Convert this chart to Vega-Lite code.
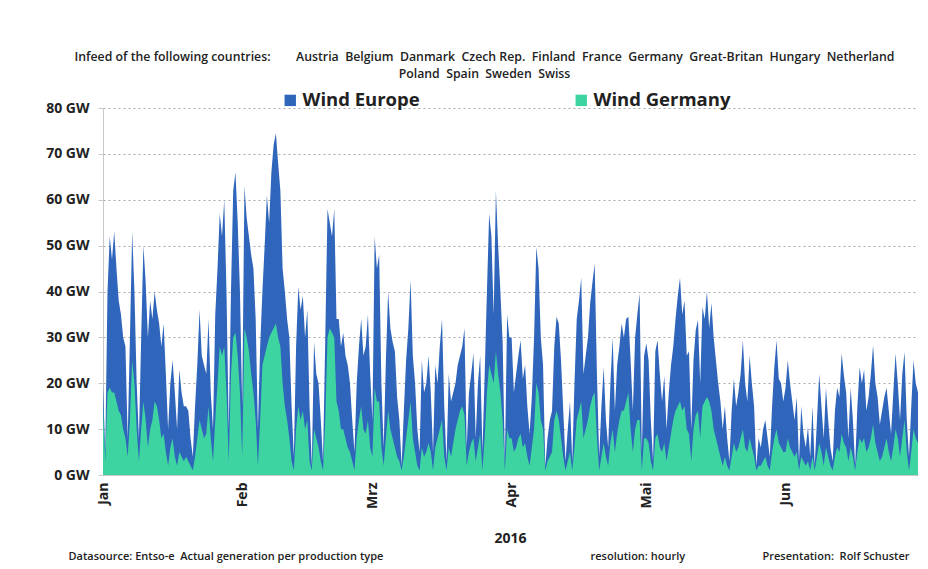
{
"$schema": "https://vega.github.io/schema/vega-lite/v6.json",
"width": 815, "height": 367,
"autosize": {"type": "none"},
"padding": {"left": 103, "top": 108, "right": 10, "bottom": 94},
"background": "white",
"title": {"text": "Infeed of the following countries:\u00a0\u00a0\u00a0\u00a0\u00a0\u00a0\u00a0 Austria \u00a0Belgium \u00a0Danmark \u00a0Czech Rep. \u00a0Finland \u00a0France \u00a0Germany \u00a0Great-Britan \u00a0Hungary \u00a0Netherland", "subtitle": "Poland \u00a0Spain \u00a0Sweden \u00a0Swiss", "anchor": "middle", "frame": "group", "dx": -26, "font": "Open Sans", "fontSize": 12.3, "fontWeight": 600, "color": "#222", "subtitleFont": "Open Sans", "subtitleFontSize": 12.3, "subtitleFontWeight": 600, "subtitleColor": "#222", "subtitlePadding": 4, "offset": 11},
"data": {"values": [
{"t":"2016-01-01T00:00","e":20,"g":15},{"t":"2016-01-01T12:00","e":5,"g":3},
{"t":"2016-01-02T00:00","e":40,"g":18},{"t":"2016-01-02T12:00","e":52,"g":19},
{"t":"2016-01-03T00:00","e":47,"g":18},{"t":"2016-01-03T12:00","e":53,"g":18},
{"t":"2016-01-04T00:00","e":45,"g":16},{"t":"2016-01-04T12:00","e":38,"g":14},
{"t":"2016-01-05T00:00","e":35,"g":13},{"t":"2016-01-05T12:00","e":30,"g":10},
{"t":"2016-01-06T00:00","e":28,"g":8},{"t":"2016-01-06T12:00","e":8,"g":4},
{"t":"2016-01-07T00:00","e":30,"g":12},{"t":"2016-01-07T12:00","e":53,"g":25},
{"t":"2016-01-08T00:00","e":40,"g":20},{"t":"2016-01-08T12:00","e":20,"g":10},
{"t":"2016-01-09T00:00","e":8,"g":3},{"t":"2016-01-09T12:00","e":30,"g":10},
{"t":"2016-01-10T00:00","e":50,"g":16},{"t":"2016-01-10T12:00","e":42,"g":12},
{"t":"2016-01-11T00:00","e":30,"g":6},{"t":"2016-01-11T12:00","e":38,"g":10},
{"t":"2016-01-12T00:00","e":34,"g":12},{"t":"2016-01-12T12:00","e":40,"g":16},
{"t":"2016-01-13T00:00","e":36,"g":15},{"t":"2016-01-13T12:00","e":33,"g":12},
{"t":"2016-01-14T00:00","e":28,"g":8},{"t":"2016-01-14T12:00","e":33,"g":9},
{"t":"2016-01-15T00:00","e":22,"g":5},{"t":"2016-01-15T12:00","e":10,"g":2},
{"t":"2016-01-16T00:00","e":20,"g":6},{"t":"2016-01-16T12:00","e":25,"g":8},
{"t":"2016-01-17T00:00","e":18,"g":4},{"t":"2016-01-17T12:00","e":10,"g":2},
{"t":"2016-01-18T00:00","e":23,"g":5},{"t":"2016-01-18T12:00","e":18,"g":4},
{"t":"2016-01-19T00:00","e":15,"g":3},{"t":"2016-01-19T12:00","e":15,"g":4},
{"t":"2016-01-20T00:00","e":14,"g":3},{"t":"2016-01-20T12:00","e":8,"g":2},
{"t":"2016-01-21T00:00","e":4,"g":1},{"t":"2016-01-21T12:00","e":15,"g":4},
{"t":"2016-01-22T00:00","e":24,"g":8},{"t":"2016-01-22T12:00","e":36,"g":12},
{"t":"2016-01-23T00:00","e":26,"g":10},{"t":"2016-01-23T12:00","e":24,"g":8},
{"t":"2016-01-24T00:00","e":22,"g":9},{"t":"2016-01-24T12:00","e":34,"g":15},
{"t":"2016-01-25T00:00","e":18,"g":8},{"t":"2016-01-25T12:00","e":10,"g":3},
{"t":"2016-01-26T00:00","e":35,"g":12},{"t":"2016-01-26T12:00","e":45,"g":20},
{"t":"2016-01-27T00:00","e":57,"g":28},{"t":"2016-01-27T12:00","e":52,"g":26},
{"t":"2016-01-28T00:00","e":60,"g":28},{"t":"2016-01-28T12:00","e":40,"g":18},
{"t":"2016-01-29T00:00","e":10,"g":3},{"t":"2016-01-29T12:00","e":40,"g":22},
{"t":"2016-01-30T00:00","e":62,"g":30},{"t":"2016-01-30T12:00","e":66,"g":31},
{"t":"2016-01-31T00:00","e":55,"g":26},{"t":"2016-01-31T12:00","e":40,"g":18},
{"t":"2016-02-01T00:00","e":15,"g":4},{"t":"2016-02-01T12:00","e":63,"g":32},
{"t":"2016-02-02T00:00","e":56,"g":30},{"t":"2016-02-02T12:00","e":52,"g":27},
{"t":"2016-02-03T00:00","e":48,"g":22},{"t":"2016-02-03T12:00","e":45,"g":18},
{"t":"2016-02-04T00:00","e":34,"g":12},{"t":"2016-02-04T12:00","e":10,"g":2},
{"t":"2016-02-05T00:00","e":28,"g":12},{"t":"2016-02-05T12:00","e":40,"g":24},
{"t":"2016-02-06T00:00","e":50,"g":26},{"t":"2016-02-06T12:00","e":61,"g":28},
{"t":"2016-02-07T00:00","e":55,"g":30},{"t":"2016-02-07T12:00","e":66,"g":31},
{"t":"2016-02-08T00:00","e":72,"g":32},{"t":"2016-02-08T12:00","e":74.5,"g":33},
{"t":"2016-02-09T00:00","e":68,"g":30},{"t":"2016-02-09T12:00","e":62,"g":28},
{"t":"2016-02-10T00:00","e":45,"g":20},{"t":"2016-02-10T12:00","e":40,"g":15},
{"t":"2016-02-11T00:00","e":34,"g":12},{"t":"2016-02-11T12:00","e":30,"g":8},
{"t":"2016-02-12T00:00","e":15,"g":3},{"t":"2016-02-12T12:00","e":4,"g":1},
{"t":"2016-02-13T00:00","e":28,"g":10},{"t":"2016-02-13T12:00","e":41,"g":15},
{"t":"2016-02-14T00:00","e":36,"g":12},{"t":"2016-02-14T12:00","e":39,"g":14},
{"t":"2016-02-15T00:00","e":30,"g":10},{"t":"2016-02-15T12:00","e":36,"g":12},
{"t":"2016-02-16T00:00","e":15,"g":3},{"t":"2016-02-16T12:00","e":2,"g":1},
{"t":"2016-02-17T00:00","e":29,"g":10},{"t":"2016-02-17T12:00","e":22,"g":8},
{"t":"2016-02-18T00:00","e":20,"g":6},{"t":"2016-02-18T12:00","e":12,"g":3},
{"t":"2016-02-19T00:00","e":3,"g":1},{"t":"2016-02-19T12:00","e":30,"g":12},
{"t":"2016-02-20T00:00","e":58,"g":30},{"t":"2016-02-20T12:00","e":55,"g":32},
{"t":"2016-02-21T00:00","e":52,"g":31},{"t":"2016-02-21T12:00","e":58,"g":30},
{"t":"2016-02-22T00:00","e":34,"g":16},{"t":"2016-02-22T12:00","e":34,"g":14},
{"t":"2016-02-23T00:00","e":28,"g":10},{"t":"2016-02-23T12:00","e":31,"g":10},
{"t":"2016-02-24T00:00","e":26,"g":8},{"t":"2016-02-24T12:00","e":24,"g":6},
{"t":"2016-02-25T00:00","e":20,"g":5},{"t":"2016-02-25T12:00","e":12,"g":3},
{"t":"2016-02-26T00:00","e":5,"g":1},{"t":"2016-02-26T12:00","e":20,"g":8},
{"t":"2016-02-27T00:00","e":28,"g":12},{"t":"2016-02-27T12:00","e":34,"g":15},
{"t":"2016-02-28T00:00","e":26,"g":10},{"t":"2016-02-28T12:00","e":28,"g":9},
{"t":"2016-02-29T00:00","e":35,"g":12},{"t":"2016-02-29T12:00","e":22,"g":6},
{"t":"2016-03-01T00:00","e":12,"g":4},{"t":"2016-03-01T12:00","e":52,"g":19},
{"t":"2016-03-02T00:00","e":45,"g":16},{"t":"2016-03-02T12:00","e":48,"g":16},
{"t":"2016-03-03T00:00","e":20,"g":6},{"t":"2016-03-03T12:00","e":6,"g":2},
{"t":"2016-03-04T00:00","e":25,"g":8},{"t":"2016-03-04T12:00","e":40,"g":14},
{"t":"2016-03-05T00:00","e":32,"g":10},{"t":"2016-03-05T12:00","e":29,"g":8},
{"t":"2016-03-06T00:00","e":27,"g":6},{"t":"2016-03-06T12:00","e":17,"g":4},
{"t":"2016-03-07T00:00","e":12,"g":3},{"t":"2016-03-07T12:00","e":2,"g":1},
{"t":"2016-03-08T00:00","e":14,"g":4},{"t":"2016-03-08T12:00","e":25,"g":8},
{"t":"2016-03-09T00:00","e":32,"g":12},{"t":"2016-03-09T12:00","e":42.5,"g":16},
{"t":"2016-03-10T00:00","e":26,"g":8},{"t":"2016-03-10T12:00","e":20,"g":5},
{"t":"2016-03-11T00:00","e":10,"g":2},{"t":"2016-03-11T12:00","e":5,"g":1},
{"t":"2016-03-12T00:00","e":25,"g":6},{"t":"2016-03-12T12:00","e":18,"g":4},
{"t":"2016-03-13T00:00","e":20,"g":5},{"t":"2016-03-13T12:00","e":26,"g":7},
{"t":"2016-03-14T00:00","e":18,"g":5},{"t":"2016-03-14T12:00","e":5,"g":1},
{"t":"2016-03-15T00:00","e":24,"g":6},{"t":"2016-03-15T12:00","e":20,"g":8},
{"t":"2016-03-16T00:00","e":28,"g":10},{"t":"2016-03-16T12:00","e":34,"g":12},
{"t":"2016-03-17T00:00","e":15,"g":4},{"t":"2016-03-17T12:00","e":3,"g":1},
{"t":"2016-03-18T00:00","e":22,"g":6},{"t":"2016-03-18T12:00","e":16,"g":4},
{"t":"2016-03-19T00:00","e":18,"g":7},{"t":"2016-03-19T12:00","e":20,"g":10},
{"t":"2016-03-20T00:00","e":24,"g":12},{"t":"2016-03-20T12:00","e":26,"g":14},
{"t":"2016-03-21T00:00","e":28,"g":15},{"t":"2016-03-21T12:00","e":32,"g":13},
{"t":"2016-03-22T00:00","e":6,"g":2},{"t":"2016-03-22T12:00","e":18,"g":5},
{"t":"2016-03-23T00:00","e":22,"g":7},{"t":"2016-03-23T12:00","e":26.6,"g":8},
{"t":"2016-03-24T00:00","e":8,"g":3},{"t":"2016-03-24T12:00","e":20,"g":6},
{"t":"2016-03-25T00:00","e":26,"g":9},{"t":"2016-03-25T12:00","e":5,"g":1},
{"t":"2016-03-26T00:00","e":22,"g":8},{"t":"2016-03-26T12:00","e":40,"g":18},
{"t":"2016-03-27T00:00","e":57,"g":24},{"t":"2016-03-27T12:00","e":52,"g":22},
{"t":"2016-03-28T00:00","e":35,"g":20},{"t":"2016-03-28T12:00","e":62,"g":27},
{"t":"2016-03-29T00:00","e":50,"g":22},{"t":"2016-03-29T12:00","e":40,"g":18},
{"t":"2016-03-30T00:00","e":29,"g":12},{"t":"2016-03-30T12:00","e":3,"g":1},
{"t":"2016-03-31T00:00","e":35,"g":10},{"t":"2016-03-31T12:00","e":30,"g":8},
{"t":"2016-04-01T00:00","e":30,"g":8},{"t":"2016-04-01T12:00","e":18,"g":5},
{"t":"2016-04-02T00:00","e":22,"g":6},{"t":"2016-04-02T12:00","e":26,"g":8},
{"t":"2016-04-03T00:00","e":29.4,"g":9},{"t":"2016-04-03T12:00","e":21,"g":6},
{"t":"2016-04-04T00:00","e":24,"g":7},{"t":"2016-04-04T12:00","e":15,"g":4},
{"t":"2016-04-05T00:00","e":9,"g":2},{"t":"2016-04-05T12:00","e":17,"g":6},
{"t":"2016-04-06T00:00","e":30,"g":10},{"t":"2016-04-06T12:00","e":49.7,"g":20},
{"t":"2016-04-07T00:00","e":45,"g":18},{"t":"2016-04-07T12:00","e":30,"g":12},
{"t":"2016-04-08T00:00","e":24,"g":10},{"t":"2016-04-08T12:00","e":2,"g":1},
{"t":"2016-04-09T00:00","e":8,"g":3},{"t":"2016-04-09T12:00","e":12,"g":4},
{"t":"2016-04-10T00:00","e":14,"g":5},{"t":"2016-04-10T12:00","e":28,"g":12},
{"t":"2016-04-11T00:00","e":34.5,"g":14},{"t":"2016-04-11T12:00","e":33,"g":12},
{"t":"2016-04-12T00:00","e":25,"g":8},{"t":"2016-04-12T12:00","e":14,"g":4},
{"t":"2016-04-13T00:00","e":3,"g":1},{"t":"2016-04-13T12:00","e":10,"g":3},
{"t":"2016-04-14T00:00","e":16,"g":5},{"t":"2016-04-14T12:00","e":3,"g":1},
{"t":"2016-04-15T00:00","e":20,"g":6},{"t":"2016-04-15T12:00","e":34,"g":12},
{"t":"2016-04-16T00:00","e":38,"g":14},{"t":"2016-04-16T12:00","e":43,"g":16},
{"t":"2016-04-17T00:00","e":22,"g":8},{"t":"2016-04-17T12:00","e":26,"g":10},
{"t":"2016-04-18T00:00","e":30,"g":12},{"t":"2016-04-18T12:00","e":37.5,"g":15},
{"t":"2016-04-19T00:00","e":42,"g":17},{"t":"2016-04-19T12:00","e":46,"g":18},
{"t":"2016-04-20T00:00","e":22,"g":8},{"t":"2016-04-20T12:00","e":4,"g":1},
{"t":"2016-04-21T00:00","e":15,"g":4},{"t":"2016-04-21T12:00","e":23.5,"g":7},
{"t":"2016-04-22T00:00","e":12,"g":4},{"t":"2016-04-22T12:00","e":6,"g":2},
{"t":"2016-04-23T00:00","e":20,"g":7},{"t":"2016-04-23T12:00","e":30,"g":10},
{"t":"2016-04-24T00:00","e":14,"g":5},{"t":"2016-04-24T12:00","e":24,"g":9},
{"t":"2016-04-25T00:00","e":28,"g":12},{"t":"2016-04-25T12:00","e":33,"g":14},
{"t":"2016-04-26T00:00","e":30,"g":14},{"t":"2016-04-26T12:00","e":34,"g":16},
{"t":"2016-04-27T00:00","e":34.5,"g":18},{"t":"2016-04-27T12:00","e":25,"g":10},
{"t":"2016-04-28T00:00","e":14,"g":5},{"t":"2016-04-28T12:00","e":30,"g":10},
{"t":"2016-04-29T00:00","e":35,"g":12},{"t":"2016-04-29T12:00","e":39.6,"g":12},
{"t":"2016-04-30T00:00","e":5,"g":1},{"t":"2016-04-30T12:00","e":26,"g":8},
{"t":"2016-05-01T00:00","e":28.7,"g":8},{"t":"2016-05-01T12:00","e":25,"g":7},
{"t":"2016-05-02T00:00","e":12,"g":3},{"t":"2016-05-02T12:00","e":3,"g":1},
{"t":"2016-05-03T00:00","e":27,"g":8},{"t":"2016-05-03T12:00","e":29.4,"g":9},
{"t":"2016-05-04T00:00","e":22,"g":6},{"t":"2016-05-04T12:00","e":16,"g":5},
{"t":"2016-05-05T00:00","e":21.6,"g":7},{"t":"2016-05-05T12:00","e":10,"g":3},
{"t":"2016-05-06T00:00","e":18,"g":6},{"t":"2016-05-06T12:00","e":24,"g":9},
{"t":"2016-05-07T00:00","e":28,"g":12},{"t":"2016-05-07T12:00","e":34,"g":14},
{"t":"2016-05-08T00:00","e":39,"g":15},{"t":"2016-05-08T12:00","e":43,"g":16},
{"t":"2016-05-09T00:00","e":35,"g":14},{"t":"2016-05-09T12:00","e":38,"g":15},
{"t":"2016-05-10T00:00","e":26,"g":10},{"t":"2016-05-10T12:00","e":27,"g":9},
{"t":"2016-05-11T00:00","e":10,"g":3},{"t":"2016-05-11T12:00","e":25,"g":10},
{"t":"2016-05-12T00:00","e":31.6,"g":13},{"t":"2016-05-12T12:00","e":33.8,"g":14},
{"t":"2016-05-13T00:00","e":20,"g":8},{"t":"2016-05-13T12:00","e":36.6,"g":15},
{"t":"2016-05-14T00:00","e":34,"g":16},{"t":"2016-05-14T12:00","e":40,"g":17},
{"t":"2016-05-15T00:00","e":32,"g":16},{"t":"2016-05-15T12:00","e":37.5,"g":14},
{"t":"2016-05-16T00:00","e":30,"g":10},{"t":"2016-05-16T12:00","e":25,"g":8},
{"t":"2016-05-17T00:00","e":20,"g":6},{"t":"2016-05-17T12:00","e":16,"g":4},
{"t":"2016-05-18T00:00","e":10,"g":2},{"t":"2016-05-18T12:00","e":15,"g":4},
{"t":"2016-05-19T00:00","e":8,"g":2},{"t":"2016-05-19T12:00","e":3,"g":1},
{"t":"2016-05-20T00:00","e":14,"g":4},{"t":"2016-05-20T12:00","e":21,"g":7},
{"t":"2016-05-21T00:00","e":15,"g":5},{"t":"2016-05-21T12:00","e":18,"g":6},
{"t":"2016-05-22T00:00","e":22,"g":8},{"t":"2016-05-22T12:00","e":29.4,"g":10},
{"t":"2016-05-23T00:00","e":20,"g":6},{"t":"2016-05-23T12:00","e":16,"g":5},
{"t":"2016-05-24T00:00","e":26,"g":8},{"t":"2016-05-24T12:00","e":20,"g":6},
{"t":"2016-05-25T00:00","e":15,"g":4},{"t":"2016-05-25T12:00","e":2,"g":1},
{"t":"2016-05-26T00:00","e":8,"g":2},{"t":"2016-05-26T12:00","e":6,"g":2},
{"t":"2016-05-27T00:00","e":10,"g":3},{"t":"2016-05-27T12:00","e":12,"g":4},
{"t":"2016-05-28T00:00","e":8,"g":2},{"t":"2016-05-28T12:00","e":4,"g":1},
{"t":"2016-05-29T00:00","e":15,"g":5},{"t":"2016-05-29T12:00","e":23.5,"g":8},
{"t":"2016-05-30T00:00","e":29.4,"g":10},{"t":"2016-05-30T12:00","e":21,"g":7},
{"t":"2016-05-31T00:00","e":20,"g":6},{"t":"2016-05-31T12:00","e":16,"g":5},
{"t":"2016-06-01T00:00","e":19,"g":5},{"t":"2016-06-01T12:00","e":25,"g":8},
{"t":"2016-06-02T00:00","e":20,"g":6},{"t":"2016-06-02T12:00","e":16,"g":5},
{"t":"2016-06-03T00:00","e":12,"g":4},{"t":"2016-06-03T12:00","e":17,"g":5},
{"t":"2016-06-04T00:00","e":3,"g":1},{"t":"2016-06-04T12:00","e":15,"g":4},
{"t":"2016-06-05T00:00","e":9,"g":3},{"t":"2016-06-05T12:00","e":6,"g":2},
{"t":"2016-06-06T00:00","e":10.5,"g":3},{"t":"2016-06-06T12:00","e":4,"g":1},
{"t":"2016-06-07T00:00","e":15,"g":4},{"t":"2016-06-07T12:00","e":2,"g":1},
{"t":"2016-06-08T00:00","e":12,"g":4},{"t":"2016-06-08T12:00","e":22,"g":7},
{"t":"2016-06-09T00:00","e":15,"g":5},{"t":"2016-06-09T12:00","e":8,"g":2},
{"t":"2016-06-10T00:00","e":19,"g":6},{"t":"2016-06-10T12:00","e":12,"g":4},
{"t":"2016-06-11T00:00","e":6,"g":2},{"t":"2016-06-11T12:00","e":3,"g":1},
{"t":"2016-06-12T00:00","e":14,"g":4},{"t":"2016-06-12T12:00","e":19,"g":6},
{"t":"2016-06-13T00:00","e":17,"g":5},{"t":"2016-06-13T12:00","e":26.5,"g":9},
{"t":"2016-06-14T00:00","e":21.7,"g":7},{"t":"2016-06-14T12:00","e":18,"g":6},
{"t":"2016-06-15T00:00","e":8,"g":3},{"t":"2016-06-15T12:00","e":19,"g":6},
{"t":"2016-06-16T00:00","e":12,"g":4},{"t":"2016-06-16T12:00","e":2,"g":1},
{"t":"2016-06-17T00:00","e":15,"g":5},{"t":"2016-06-17T12:00","e":23.5,"g":8},
{"t":"2016-06-18T00:00","e":20,"g":7},{"t":"2016-06-18T12:00","e":23,"g":8},
{"t":"2016-06-19T00:00","e":14,"g":5},{"t":"2016-06-19T12:00","e":17,"g":6},
{"t":"2016-06-20T00:00","e":22,"g":8},{"t":"2016-06-20T12:00","e":28.3,"g":11},
{"t":"2016-06-21T00:00","e":20,"g":7},{"t":"2016-06-21T12:00","e":17,"g":5},
{"t":"2016-06-22T00:00","e":11,"g":3},{"t":"2016-06-22T12:00","e":14,"g":4},
{"t":"2016-06-23T00:00","e":17,"g":6},{"t":"2016-06-23T12:00","e":19,"g":8},
{"t":"2016-06-24T00:00","e":14,"g":5},{"t":"2016-06-24T12:00","e":9,"g":3},
{"t":"2016-06-25T00:00","e":18,"g":6},{"t":"2016-06-25T12:00","e":26.5,"g":10},
{"t":"2016-06-26T00:00","e":20,"g":8},{"t":"2016-06-26T12:00","e":12,"g":4},
{"t":"2016-06-27T00:00","e":22,"g":8},{"t":"2016-06-27T12:00","e":26.8,"g":12},
{"t":"2016-06-28T00:00","e":12,"g":5},{"t":"2016-06-28T12:00","e":4,"g":1},
{"t":"2016-06-29T00:00","e":15,"g":5},{"t":"2016-06-29T12:00","e":25,"g":10},
{"t":"2016-06-30T00:00","e":20,"g":8},{"t":"2016-06-30T12:00","e":18,"g":7}
]},
"layer": [
{
"mark": {"type": "area", "interpolate": "linear"},
"encoding": {
"x": {"field": "t", "type": "temporal",
"scale": {"domain": [{"year": 2016, "month": 1, "date": 1}, {"year": 2016, "month": 6, "date": 30, "hours": 12}]},
"axis": {"values": [{"year": 2016, "month": 1, "date": 1}, {"year": 2016, "month": 2, "date": 1}, {"year": 2016, "month": 3, "date": 1}, {"year": 2016, "month": 4, "date": 1}, {"year": 2016, "month": 5, "date": 1}, {"year": 2016, "month": 6, "date": 1}],
"labelExpr": "['Jan','Feb','Mrz','Apr','Mai','Jun'][month(datum.value)]",
"labelAngle": -90, "labelAlign": "right", "labelBaseline": "middle", "labelPadding": 7,
"labelFont": "Open Sans", "labelFontSize": 14, "labelFontWeight": "bold", "labelColor": "#222",
"ticks": false, "grid": false, "domain": true, "domainColor": "#c8c8c8",
"title": "2016", "titleFont": "Open Sans", "titleFontSize": 14, "titleFontWeight": "bold", "titleColor": "#222",
"titleX": 407, "titleY": 67, "titleAlign": "center", "titleBaseline": "alphabetic", "titleAnchor": null}},
"y": {"field": "e", "type": "quantitative", "stack": null,
"scale": {"domain": [0, 80], "nice": false},
"axis": {"values": [0, 10, 20, 30, 40, 50, 60, 70, 80], "labelExpr": "datum.value + ' GW'",
"labelFont": "Open Sans", "labelFontSize": 14, "labelFontWeight": "bold", "labelColor": "#222", "labelPadding": 9,
"tickSize": 5, "tickColor": "#c8c8c8", "domainColor": "#c8c8c8",
"grid": true, "gridDash": [2, 3], "gridColor": "#a8a8a8", "gridWidth": 1,
"title": "Datasource: Entso-e \u00a0Actual generation per production type", "titleAngle": 0,
"titleX": -35, "titleY": 451, "titleAlign": "left", "titleBaseline": "alphabetic", "titleAnchor": null,
"titleFont": "Open Sans", "titleFontSize": 11, "titleFontWeight": 600, "titleColor": "#222"}},
"color": {"datum": "Wind Europe", "type": "nominal",
"scale": {"domain": ["Wind Europe", "Wind Germany"], "range": ["#2f66bb", "#3dd4a1"]},
"legend": {"orient": "none", "legendX": 178, "legendY": -17, "direction": "horizontal", "title": null,
"symbolType": "square", "symbolSize": 130, "symbolStrokeWidth": 0, "symbolOpacity": 1,
"labelFont": "Open Sans", "labelFontSize": 18.5, "labelFontWeight": "bold", "labelColor": "#222",
"labelOffset": 3, "columnPadding": 152, "labelLimit": 300}}
}
},
{
"mark": {"type": "area", "interpolate": "linear"},
"encoding": {
"x": {"field": "t", "type": "temporal",
"axis": {"orient": "top", "labels": false, "ticks": false, "domain": false, "grid": false,
"title": "resolution: hourly", "titleX": 487, "titleY": 451, "titleAlign": "left", "titleBaseline": "alphabetic", "titleAnchor": null,
"titleFont": "Open Sans", "titleFontSize": 11, "titleFontWeight": 600, "titleColor": "#222"}},
"y": {"field": "g", "type": "quantitative", "stack": null,
"axis": {"orient": "right", "labels": false, "ticks": false, "domain": false, "grid": false,
"title": "Presentation: \u00a0Rolf Schuster", "titleAngle": 0, "titleX": -156, "titleY": 451, "titleAlign": "left", "titleBaseline": "alphabetic", "titleAnchor": null,
"titleFont": "Open Sans", "titleFontSize": 11, "titleFontWeight": 600, "titleColor": "#222"}},
"color": {"datum": "Wind Germany", "type": "nominal"}
}
}
],
"resolve": {"axis": {"x": "independent", "y": "independent"}},
"config": {"view": {"stroke": null}}
}
